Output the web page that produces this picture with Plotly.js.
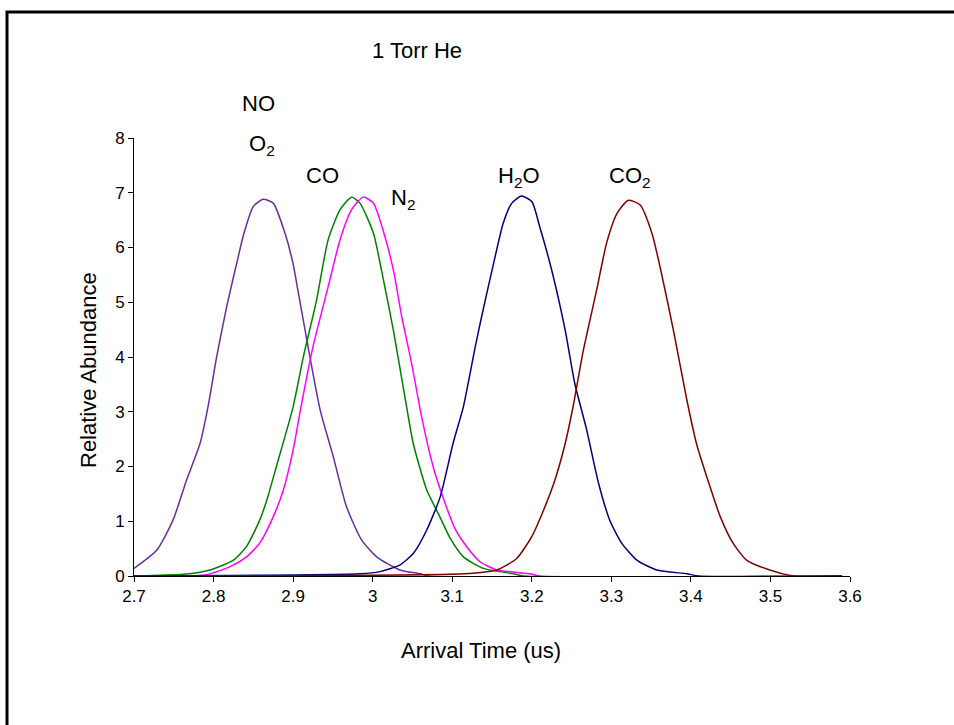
<!DOCTYPE html>
<html>
<head>
<meta charset="utf-8">
<script src="https://cdn.plot.ly/plotly-3.0.1.min.js"></script>
<style>
  html, body { margin: 0; padding: 0; background: #fff; overflow: hidden; }
  #chart { width: 954px; height: 725px; }
</style>
</head>
<body>
<div id="chart"></div>
<script>
// ---- Data ----
const noO2Time = [2.7, 2.7285, 2.749, 2.766, 2.783, 2.793, 2.804, 2.8165, 2.831, 2.838, 2.85, 2.8625, 2.875, 2.89, 2.9, 2.906, 2.921, 2.934, 2.9505, 2.967, 2.986, 3.005, 3.034, 3.06, 3.07, 3.59];
const noO2Abund = [0.14, 0.47, 1.02, 1.75, 2.42, 3.09, 4.01, 4.92, 5.83, 6.25, 6.75, 6.88, 6.81, 6.25, 5.7, 5.22, 4.01, 3.03, 2.18, 1.27, 0.66, 0.35, 0.11, 0.04, 0, 0];

const coTime = [2.7, 2.762, 2.7955, 2.825, 2.8415, 2.858, 2.867, 2.879, 2.9, 2.913, 2.9295, 2.944, 2.959, 2.9735, 2.984, 3.001, 3.011, 3.026, 3.0405, 3.051, 3.068, 3.0845, 3.097, 3.114, 3.139, 3.177, 3.19, 3.59];
const coAbund = [0, 0.03, 0.11, 0.29, 0.54, 1.02, 1.39, 2.0, 3.09, 4.01, 5.04, 6.14, 6.69, 6.92, 6.81, 6.26, 5.59, 4.49, 3.27, 2.42, 1.57, 1.08, 0.7, 0.35, 0.14, 0.04, 0, 0];

const n2Time = [2.7, 2.79, 2.8207, 2.8415, 2.858, 2.875, 2.8877, 2.9, 2.9107, 2.925, 2.944, 2.959, 2.9735, 2.988, 3.001, 3.013, 3.026, 3.0365, 3.049, 3.0615, 3.076, 3.091, 3.104, 3.118, 3.135, 3.156, 3.198, 3.21, 3.59];
const n2Abund = [0, 0.02, 0.17, 0.35, 0.6, 1.08, 1.57, 2.3, 3.15, 4.19, 5.28, 6.14, 6.69, 6.92, 6.81, 6.32, 5.59, 4.74, 3.88, 2.91, 2.0, 1.33, 0.85, 0.54, 0.26, 0.11, 0.04, 0, 0];

const h2oTime = [2.7, 2.984, 3.009, 3.034, 3.051, 3.068, 3.085, 3.101, 3.114, 3.129, 3.137, 3.152, 3.164, 3.175, 3.187, 3.2, 3.21, 3.225, 3.242, 3.254, 3.269, 3.284, 3.298, 3.313, 3.332, 3.357, 3.395, 3.41, 3.59];
const h2oAbund = [0, 0.04, 0.08, 0.2, 0.41, 0.84, 1.45, 2.42, 3.09, 4.19, 4.74, 5.71, 6.44, 6.81, 6.94, 6.84, 6.38, 5.59, 4.49, 3.52, 2.67, 1.69, 1.02, 0.6, 0.29, 0.11, 0.04, 0, 0];

const co2Time = [2.7, 3.114, 3.156, 3.181, 3.2, 3.215, 3.229, 3.242, 3.252, 3.2645, 3.2815, 3.294, 3.307, 3.321, 3.336, 3.351, 3.363, 3.378, 3.395, 3.407, 3.42, 3.437, 3.453, 3.47, 3.499, 3.53, 3.59];
const co2Abund = [0, 0.04, 0.11, 0.32, 0.72, 1.21, 1.75, 2.42, 3.1, 4.1, 5.22, 6.08, 6.62, 6.86, 6.78, 6.26, 5.53, 4.49, 3.21, 2.42, 1.81, 1.08, 0.6, 0.29, 0.11, 0, 0];

const xTickVals = [2.7, 2.8, 2.9, 3.0, 3.1, 3.2, 3.3, 3.4, 3.5, 3.6];
const xTickText = ["2.7", "2.8", "2.9", "3", "3.1", "3.2", "3.3", "3.4", "3.5", "3.6"];
const yTickVals = [0, 1, 2, 3, 4, 5, 6, 7, 8];
const yTickText = ["0", "1", "2", "3", "4", "5", "6", "7", "8"];

// ---- Geometry helpers (plot area in pixels) ----
const L = 134, R = 850, T = 138, B = 576;
const px = x => (x - L) / (R - L);
const py = y => (B - y) / (B - T);

const FONT = "Liberation Sans, Arial, Helvetica, sans-serif";
const line = (c) => ({ color: c, width: 1.5, shape: "spline", smoothing: 0.6 });

const traces = [
  { x: noO2Time, y: noO2Abund, name: "NO / O2", mode: "lines", line: line("#6B2C9E") },
  { x: coTime, y: coAbund, name: "CO", mode: "lines", line: line("#008000") },
  { x: n2Time, y: n2Abund, name: "N2", mode: "lines", line: line("#FF00FF") },
  { x: h2oTime, y: h2oAbund, name: "H2O", mode: "lines", line: line("#000080") },
  { x: co2Time, y: co2Abund, name: "CO2", mode: "lines", line: line("#800000") }
];

const lab = (text, x, y, size, angle) => ({
  text: text, xref: "paper", yref: "paper", x: px(x), y: py(y),
  xanchor: "center", yanchor: "middle", showarrow: false, textangle: angle || 0,
  font: { family: FONT, size: size || 22, color: "#000" }
});

const layout = {
  width: 954, height: 725,
  margin: { l: L, r: 954 - R, t: T, b: 725 - B, pad: 0 },
  paper_bgcolor: "#fff", plot_bgcolor: "#fff",
  showlegend: false,
  font: { family: FONT, color: "#000" },
  xaxis: {
    range: [2.7, 3.6], tickvals: xTickVals, ticktext: xTickText,
    showline: true, linecolor: "#000", linewidth: 1,
    ticks: "outside", ticklen: 5, tickcolor: "#000", tickwidth: 1,
    showgrid: false, zeroline: false,
    tickfont: { family: FONT, size: 17, color: "#000" }
  },
  yaxis: {
    range: [0, 8], tickvals: yTickVals, ticktext: yTickText,
    showline: true, linecolor: "#000", linewidth: 1,
    ticks: "outside", ticklen: 5, tickcolor: "#000", tickwidth: 1,
    showgrid: false, zeroline: false,
    tickfont: { family: FONT, size: 17, color: "#000" }
  },
  annotations: [
    lab("1 Torr He", 417, 50),
    lab("Arrival Time (us)", 481, 650),
    lab("Relative Abundance", 88, 370, 22, -90),
    lab("NO", 258, 103),
    lab("O<sub>2</sub>", 262, 145),
    lab("CO", 322, 175),
    lab("N<sub>2</sub>", 403, 199),
    lab("H<sub>2</sub>O", 519, 177),
    lab("CO<sub>2</sub>", 630, 177)
  ],
  shapes: [{
    type: "rect", xref: "paper", yref: "paper",
    x0: px(7), x1: px(1100), y0: py(900), y1: py(12),
    line: { color: "#000", width: 3 }, fillcolor: "rgba(0,0,0,0)", layer: "above"
  }]
};

Plotly.newPlot("chart", traces, layout, { staticPlot: true, displayModeBar: false });
</script>
</body>
</html>
